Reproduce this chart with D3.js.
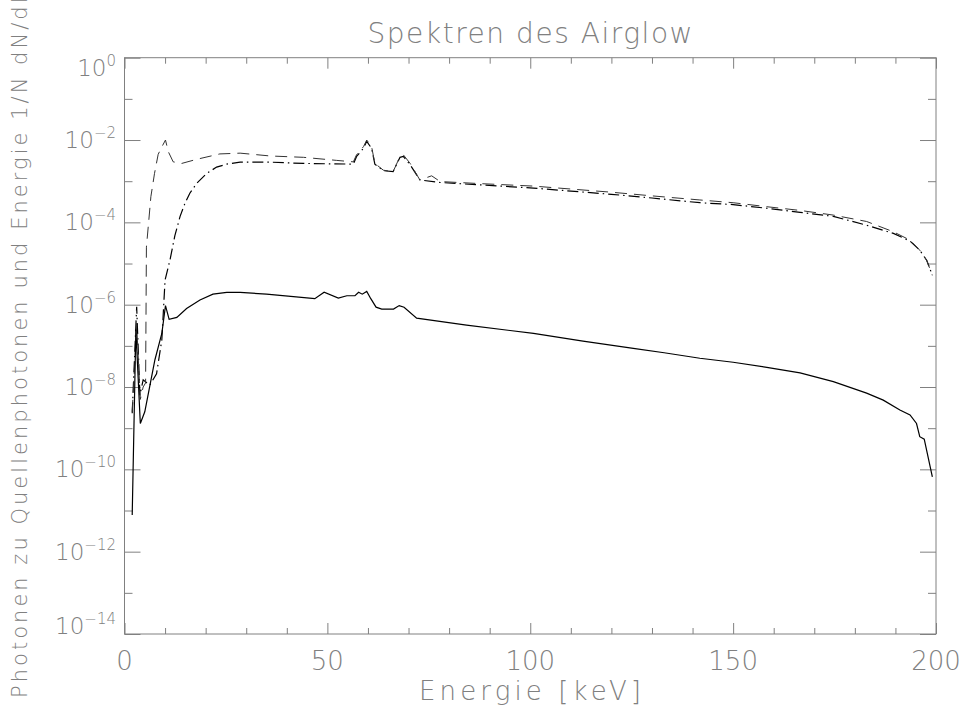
<!DOCTYPE html>
<html>
<head>
    <title>Spektren des Airglow</title>
    <meta charset="utf-8">
</head>
<body style="margin:0;background:#fff">
<style>
    text {
        font-family: "DejaVu Sans", sans-serif;
        font-weight: 200;
        fill: #808080;
    }
    .tick line, .frame {
        stroke: #808080;
        stroke-width: 1;
    }
</style>
<script src="https://d3js.org/d3.v7.min.js"></script>
<script>
    // Energies [keV] and values
    const solidE = [1.9, 2.8, 3.9, 5.0, 7.5, 9.2, 10.1, 11.0, 12.9, 15.3, 18.6, 21.8, 25.2, 28.5, 35.0, 46.9, 49.2,
        52.7, 54.8, 56.8, 57.7, 58.6, 59.7, 60.7, 62.0, 63.4, 66.3, 67.7, 68.9, 72.0, 84.3, 100.8, 113, 125.4, 133,
        141.8, 150, 158.3, 166.5, 174.7, 182.9, 187, 191.1, 193.6, 195.2, 196, 197.1, 199.1];
    const solidV = [7.8e-12, 2.5e-7, 1.3e-9, 2.5e-9, 4.6e-8, 2.0e-7, 9.5e-7, 4.4e-7, 4.9e-7, 8.1e-7, 1.3e-6, 1.8e-6,
        2.0e-6, 2.0e-6, 1.8e-6, 1.4e-6, 2.0e-6, 1.45e-6, 1.65e-6, 1.65e-6, 2.0e-6, 1.8e-6, 2.1e-6, 1.4e-6, 8.7e-7,
        7.8e-7, 7.8e-7, 9.5e-7, 8.7e-7, 4.7e-7, 3.2e-7, 2.0e-7, 1.3e-7, 8.7e-8, 6.8e-8, 5.0e-8, 4.0e-8, 3.0e-8,
        2.2e-8, 1.35e-8, 7.1e-9, 4.8e-9, 2.75e-9, 2.1e-9, 1.3e-9, 6.2e-10, 5.4e-10, 6.6e-11];

    const dashE = [1.9, 3.0, 3.9, 4.6, 5.2, 5.4, 6.0, 6.5, 7.4, 8.3, 9.3, 10.1, 10.8, 12.0, 14.1, 17.8, 23.5, 28.5,
        35.9, 44.1, 52.3, 56.4, 57.2, 58.9, 59.7, 60.9, 61.7, 63.8, 66.2, 67.9, 68.7, 70.4, 72.8, 75.7, 77.8, 88,
        100.8, 120, 130, 141.8, 150, 158.3, 166.5, 174.7, 182.9, 189.5, 193.6, 196, 197.7, 199.1];
    const dashV = [2.5e-9, 3.2e-7, 5.0e-9, 1.0e-8, 1.26e-8, 2.5e-5, 1.15e-4, 4.2e-4, 1.55e-3, 4.5e-3, 7.1e-3, 1.0e-2,
        5.2e-3, 2.95e-3, 2.7e-3, 3.4e-3, 4.6e-3, 4.8e-3, 4.1e-3, 3.8e-3, 3.2e-3, 2.95e-3, 4.4e-3, 6.9e-3, 1.0e-2,
        6.9e-3, 2.7e-3, 1.85e-3, 1.7e-3, 4.0e-3, 4.4e-3, 2.7e-3, 1.07e-3, 1.35e-3, 9.8e-4, 8.7e-4, 7.6e-4, 5.4e-4,
        4.4e-4, 3.5e-4, 3.0e-4, 2.4e-4, 1.95e-4, 1.5e-4, 1.05e-4, 5.9e-5, 3.7e-5, 2.1e-5, 1.2e-5, 5.2e-6];

    const dotE = [1.9, 3.0, 3.8, 4.6, 6.2, 7.9, 9.2, 10.0, 11.2, 12.4, 13.7, 14.9, 16.1, 17.8, 20.3, 22.7, 25.2, 28.5,
        35.9, 44.1, 56.4, 57.2, 58.9, 59.7, 60.9, 61.7, 63.8, 66.2, 67.9, 68.7, 70.4, 72.8, 77.8, 88, 100.8, 120,
        130, 141.8, 150, 158.3, 166.5, 174.7, 182.9, 189.5, 193.6, 196, 197.7, 199.1];
    const dotV = [2.3e-9, 8.9e-7, 6.3e-9, 1.5e-8, 1.1e-8, 2.1e-8, 1.4e-7, 4.0e-6, 1.2e-5, 4.7e-5, 1.4e-4, 2.9e-4,
        5.1e-4, 8.9e-4, 1.55e-3, 2.2e-3, 2.6e-3, 2.9e-3, 2.9e-3, 2.7e-3, 2.6e-3, 4.0e-3, 6.3e-3, 9.3e-3, 6.3e-3,
        2.6e-3, 1.8e-3, 1.7e-3, 3.8e-3, 4.0e-3, 2.5e-3, 1.07e-3, 9.3e-4, 8.1e-4, 6.8e-4, 4.8e-4, 3.9e-4, 3.0e-4,
        2.7e-4, 2.2e-4, 1.75e-4, 1.4e-4, 8.5e-5, 5.4e-5, 3.5e-5, 2.1e-5, 1.2e-5, 5.2e-6];

    const xMajor = [0, 50, 100, 150, 200];
    const yExponents = [0, -2, -4, -6, -8, -10, -12, -14];

    const W = 960, H = 709;
    const M = {left: 124.5, right: 936, top: 57.7, bottom: 634};

    const svg = d3.select('body').append('svg')
        .attr('width', W)
        .attr('height', H);

    const x = d3.scaleLinear().domain([0, 200]).range([M.left, M.right]);
    const y = d3.scaleLog().domain([1e-14, 1]).range([M.bottom, M.top]);

    const xMinor = d3.range(0, 201, 10).filter(v => !xMajor.includes(v));
    const yMajor = yExponents.map(e => Math.pow(10, e));
    const yMinor = d3.range(-13, 0, 2).map(e => Math.pow(10, e));

    // inward ticks on all four sides
    function addAxis(axisFn, scale, values, size, tx, ty) {
        svg.append('g')
            .attr('transform', `translate(${tx},${ty})`)
            .call(axisFn(scale).tickValues(values).tickSize(-size).tickFormat(''))
            .call(g => g.select('.domain').remove());
    }
    addAxis(d3.axisBottom, x, xMajor, 11, 0, M.bottom);
    addAxis(d3.axisBottom, x, xMinor, 6, 0, M.bottom);
    addAxis(d3.axisTop, x, xMajor, 11, 0, M.top);
    addAxis(d3.axisTop, x, xMinor, 6, 0, M.top);
    addAxis(d3.axisLeft, y, yMajor, 16, M.left, 0);
    addAxis(d3.axisLeft, y, yMinor, 8, M.left, 0);
    addAxis(d3.axisRight, y, yMajor, 16, M.right, 0);
    addAxis(d3.axisRight, y, yMinor, 8, M.right, 0);

    svg.append('rect')
        .attr('class', 'frame')
        .attr('x', M.left)
        .attr('y', M.top)
        .attr('width', M.right - M.left)
        .attr('height', M.bottom - M.top)
        .attr('fill', 'none');

    // x tick labels
    svg.selectAll('.xlab')
        .data(xMajor)
        .enter()
        .append('text')
        .attr('class', 'xlab')
        .attr('x', d => x(d))
        .attr('y', 670)
        .attr('text-anchor', 'middle')
        .style('font-size', '26px')
        .text(d => d);

    // y tick labels 10^n (end labels pushed inside like IDL does)
    const ylab = svg.selectAll('.ylab')
        .data(yExponents)
        .enter()
        .append('text')
        .attr('class', 'ylab')
        .attr('x', 116)
        .attr('y', d => {
            const py = y(Math.pow(10, d)) + 8;
            if (d === 0) return py + 10;
            if (d === -14) return py - 8;
            return py;
        })
        .attr('text-anchor', 'end')
        .style('font-size', '23px');
    ylab.append('tspan').text('10');
    ylab.append('tspan')
        .attr('dy', -10)
        .style('font-size', '15px')
        .text(d => d === 0 ? '0' : '\u2212' + Math.abs(d));

    // titles
    svg.append('text')
        .attr('x', 530)
        .attr('y', 43)
        .attr('text-anchor', 'middle')
        .attr('textLength', 325)
        .style('font-size', '28px')
        .text('Spektren des Airglow');

    svg.append('text')
        .attr('x', 530)
        .attr('y', 700)
        .attr('text-anchor', 'middle')
        .attr('textLength', 222)
        .style('font-size', '26px')
        .text('Energie [keV]');

    svg.append('text')
        .attr('transform', 'translate(27,698) rotate(-90)')
        .attr('textLength', 708)
        .style('font-size', '21px')
        .text('Photonen zu Quellenphotonen und Energie 1/N dN/dE');

    // spectra
    const line = d3.line()
        .x(d => x(d[0]))
        .y(d => y(d[1]));

    const series = [
        {e: dotE, v: dotV, dash: '11,4,1.5,4', color: '#000', width: 1.2},
        {e: dashE, v: dashV, dash: '12,7', color: '#333', width: 1},
        {e: solidE, v: solidV, dash: null, color: '#000', width: 1.2}
    ];

    series.forEach(s => {
        svg.append('path')
            .datum(d3.zip(s.e, s.v))
            .attr('d', line)
            .attr('fill', 'none')
            .attr('stroke', s.color)
            .attr('stroke-width', s.width)
            .attr('stroke-dasharray', s.dash);
    });
</script>
</body>
</html>
